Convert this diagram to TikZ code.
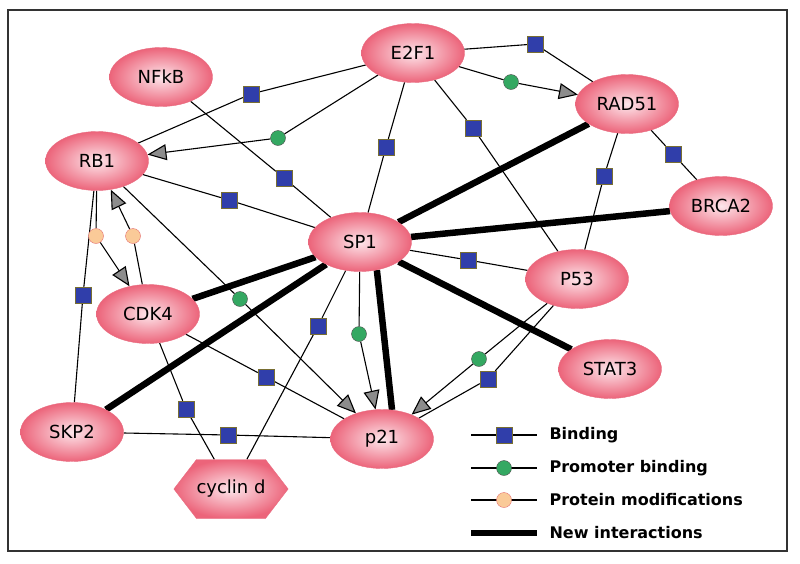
\documentclass[tikz,border=0pt]{standalone}
\usepackage{fontspec}
\setmainfont{DejaVu Sans}
\usetikzlibrary{arrows.meta,shapes.geometric,shapes.symbols,backgrounds}

\definecolor{protin}{RGB}{253,230,235}
\definecolor{protout}{RGB}{236,100,122}
\definecolor{protline}{RGB}{232,110,130}
\definecolor{bindblue}{RGB}{48,62,170}
\definecolor{bindedge}{RGB}{120,110,50}
\definecolor{promgreen}{RGB}{52,168,98}
\definecolor{modorange}{RGB}{250,202,152}
\definecolor{modedge}{RGB}{228,110,110}
\definecolor{tipgray}{RGB}{140,140,140}

\tikzset{
  protein/.style={ellipse, draw=protline, shading=radial, inner color=protin,
    outer color=protout, minimum width=103pt, minimum height=59pt, inner sep=0pt,
    font=\fontsize{18}{21}\selectfont},
  bind/.style={rectangle, draw=bindedge, fill=bindblue, minimum size=16pt, inner sep=0pt},
  prom/.style={circle, draw=black!70, fill=promgreen, minimum size=15pt, inner sep=0pt},
  pmod/.style={circle, draw=modedge, fill=modorange, minimum size=15pt, inner sep=0pt},
  link/.style={line width=1.1pt},
  newlink/.style={line width=6.5pt},
  act/.style={link, -{Triangle[length=19pt,width=16pt,fill=tipgray]}},
  legendtext/.style={anchor=west, font=\bfseries\fontsize{16}{19}\selectfont}
}

\begin{document}
\begin{tikzpicture}[x=1pt, y=-1pt]
		\useasboundingbox (0,0) rectangle (800,563);
		% Frame
		\draw[line width=1.3pt, black!80] (8,10) rectangle (787,551);

		% Proteins
		\node[protein] (E2F1) at (413,53) {E2F1};
		\node[protein] (NFkB) at (161,77) {NFkB};
		\node[protein] (RB1) at (97,161) {RB1};
		\node[protein] (RAD51) at (627,104) {RAD51};
		\node[protein] (BRCA2) at (721,206) {BRCA2};
		\node[protein] (SP1) at (360,242) {SP1};
		\node[protein] (P53) at (577,279) {P53};
		\node[protein] (CDK4) at (148,314) {CDK4};
		\node[protein] (STAT3) at (610,369) {STAT3};
		\node[protein] (SKP2) at (72,432) {SKP2};
		\node[protein] (p21) at (382,439) {p21};
		\node[protein, shape=signal, signal to=west and east, signal pointer angle=105,
			minimum width=103pt] (cyclin) at (231,489) {cyclin d};

		% Binding
		\node[bind] (b1) at (251,94) {};
		\node[bind] (b2) at (284,178) {};
		\node[bind] (b3) at (229,200) {};
		\node[bind] (b4) at (386,147) {};
		\node[bind] (b5) at (535,44) {};
		\node[bind] (b6) at (473,128) {};
		\node[bind] (b7) at (673,154) {};
		\node[bind] (b8) at (604,176) {};
		\node[bind] (b9) at (468,260) {};
		\node[bind] (b10) at (83,295) {};
		\node[bind] (b11) at (266,377) {};
		\node[bind] (b12) at (186,409) {};
		\node[bind] (b13) at (318,326) {};
		\node[bind] (b14) at (228,435) {};
		\node[bind] (b15) at (488,379) {};

		% Promoter binding
		\node[prom] (c1) at (278,138) {};
		\node[prom] (c2) at (511,82) {};
		\node[prom] (c3) at (240,299) {};
		\node[prom] (c4) at (359,334) {};
		\node[prom] (c5) at (479,359) {};

		% Protein modifications
		\node[pmod] (m1) at (96,236) {};
		\node[pmod] (m2) at (133,236) {};

		% Legend
		\coordinate (l1a) at (471,435); \coordinate (l1b) at (537,435);
		\coordinate (l2a) at (471,468); \coordinate (l2b) at (537,468);
		\coordinate (l3a) at (471,500); \coordinate (l3b) at (537,500);
		\coordinate (l4a) at (471,533); \coordinate (l4b) at (537,533);
		\node[bind] (lb) at (504,435) {};
		\node[prom] (lc) at (504,468) {};
		\node[pmod] (lm) at (504,500) {};
		\node[legendtext] (t1) at (546,435) {Binding};
		\node[legendtext] (t2) at (546,468) {Promoter binding};
		\node[legendtext] (t3) at (546,500) {Protein modifications};
		\node[legendtext] (t4) at (546,533) {New interactions};

		\begin{scope}[on background layer]
			% binding links
			\draw[link] (E2F1) -- (b1) -- (RB1);
			\draw[link] (NFkB) -- (b2) -- (SP1);
			\draw[link] (RB1) -- (b3) -- (SP1);
			\draw[link] (E2F1) -- (b4) -- (SP1);
			\draw[link] (E2F1) -- (b5) -- (RAD51);
			\draw[link] (E2F1) -- (b6) -- (P53);
			\draw[link] (RAD51) -- (b7) -- (BRCA2);
			\draw[link] (RAD51) -- (b8) -- (P53);
			\draw[link] (SP1) -- (b9) -- (P53);
			\draw[link] (RB1) -- (b10) -- (SKP2);
			\draw[link] (CDK4) -- (b11) -- (p21);
			\draw[link] (CDK4) -- (b12) -- (cyclin);
			\draw[link] (SP1) -- (b13) -- (cyclin);
			\draw[link] (SKP2) -- (b14) -- (p21);
			\draw[link] (P53) -- (b15) -- (p21);

			% promoter binding
			\draw[link] (E2F1) -- (c1); \draw[act] (c1) -- (RB1);
			\draw[link] (E2F1) -- (c2); \draw[act] (c2) -- (RAD51);
			\draw[link] (RB1) -- (c3); \draw[act] (c3) -- (p21);
			\draw[link] (SP1) -- (c4); \draw[act] (c4) -- (p21);
			\draw[link] (P53) -- (c5); \draw[act] (c5) -- (p21);

			% protein modifications
			\draw[link] (RB1) -- (m1); \draw[act] (m1) -- (CDK4);
			\draw[link] (CDK4) -- (m2); \draw[act] (m2) -- (RB1);

			% new interactions
			\draw[newlink] (SP1) -- (RAD51);
			\draw[newlink] (SP1) -- (BRCA2);
			\draw[newlink] (SP1) -- (STAT3);
			\draw[newlink] (SP1.-59) -- (p21.71);
			\draw[newlink] (SP1) -- (CDK4);
			\draw[newlink] (SP1) -- (SKP2);

			% legend lines
			\draw[link] (l1a) -- (l1b);
			\draw[link] (l2a) -- (l2b);
			\draw[link] (l3a) -- (l3b);
			\draw[newlink] (l4a) -- (l4b);
		\end{scope}
	\end{tikzpicture}
\end{document}
